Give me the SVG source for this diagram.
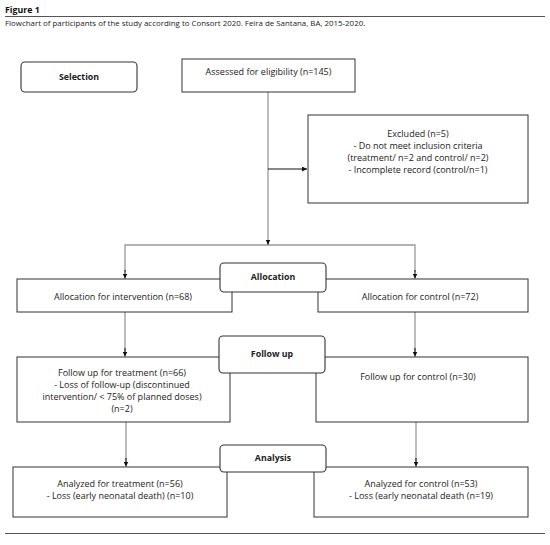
<svg xmlns="http://www.w3.org/2000/svg" width="550" height="545" viewBox="0 0 550 545">
<style>
.t{font-family:"Open Sans","Liberation Sans",sans-serif;font-size:9px;fill:#222;text-anchor:middle}
.b{font-weight:bold;font-size:8.8px}
.box{fill:#fff;stroke:#333;stroke-width:1}
.rbox{fill:#fff;stroke:#333;stroke-width:1.1}
.c{fill:none;stroke:#999;stroke-width:1.3}
.k{fill:none;stroke:#111;stroke-width:1}
</style>
<defs>
<marker id="ah" viewBox="0 0 6 6" refX="6" refY="3" markerWidth="5" markerHeight="5" orient="auto" markerUnits="userSpaceOnUse">
<path d="M0,0 L6,3 L0,6 z" fill="#111"/>
</marker>
</defs>
<rect width="550" height="545" fill="#fff"/>
<g id="header">
<text x="5" y="13" font-family="'Open Sans','Liberation Sans',sans-serif" font-size="8.8" font-weight="bold" fill="#111">Figure 1</text>
<line x1="5" y1="16.5" x2="545" y2="16.5" stroke="#555" stroke-width="1"/>
<text x="5" y="26" font-family="'Open Sans','Liberation Sans',sans-serif" font-size="7.9" fill="#222">Flowchart of participants of the study according to Consort 2020. Feira de Santana, BA, 2015-2020.</text>
</g>
<g id="connectors">
<line class="c" x1="268" y1="92" x2="268" y2="245"/>
<line class="k" x1="268" y1="169" x2="307" y2="169" marker-end="url(#ah)"/>
<polyline class="c" points="125,272 125,245 415,245 415,272"/>
<line class="k" x1="268" y1="240" x2="268" y2="244.5" marker-end="url(#ah)"/>
<line class="k" x1="125" y1="270" x2="125" y2="278.5" marker-end="url(#ah)"/>
<line class="k" x1="415" y1="270" x2="415" y2="278.5" marker-end="url(#ah)"/>
<line class="c" x1="125" y1="312" x2="125" y2="352"/>
<line class="c" x1="415" y1="312" x2="415" y2="352"/>
<line class="k" x1="125" y1="348" x2="125" y2="356.5" marker-end="url(#ah)"/>
<line class="k" x1="415" y1="348" x2="415" y2="356.5" marker-end="url(#ah)"/>
<line class="c" x1="126" y1="422" x2="126" y2="462"/>
<line class="c" x1="416" y1="422" x2="416" y2="462"/>
<line class="k" x1="126" y1="458" x2="126" y2="466.5" marker-end="url(#ah)"/>
<line class="k" x1="416" y1="458" x2="416" y2="466.5" marker-end="url(#ah)"/>
</g>
<g id="selection">
<rect class="rbox" x="21" y="62" width="116" height="30" rx="4"/>
<text class="t b" x="79" y="80">Selection</text>
</g>
<g id="assessed">
<rect class="box" x="182" y="59" width="173" height="33"/>
<text class="t" x="268.5" y="75">Assessed for eligibility (n=145)</text>
</g>
<g id="excluded">
<rect class="box" x="308" y="115" width="220" height="88"/>
<text class="t" x="418" y="137">Excluded (n=5)</text>
<text class="t" x="418" y="149">- Do not meet inclusion criteria</text>
<text class="t" x="418" y="161">(treatment/ n=2 and control/ n=2)</text>
<text class="t" x="418" y="173">- Incomplete record (control/n=1)</text>
</g>
<g id="alloc-int">
<rect class="box" x="17" y="279" width="215" height="33"/>
<text class="t" x="123" y="300">Allocation for intervention (n=68)</text>
</g>
<g id="alloc-ctrl">
<rect class="box" x="318" y="279" width="210" height="33"/>
<text class="t" x="420" y="300">Allocation for control  (n=72)</text>
</g>
<g id="allocation">
<rect class="rbox" x="220" y="263" width="106" height="29" rx="4"/>
<text class="t b" x="273" y="280">Allocation</text>
</g>
<g id="follow-int">
<rect class="box" x="17" y="357" width="213" height="65"/>
<text class="t" x="122" y="376">Follow up for treatment (n=66)</text>
<text class="t" x="122" y="388">- Loss of follow-up (discontinued</text>
<text class="t" x="122" y="400">intervention/ &lt; 75% of planned doses)</text>
<text class="t" x="122" y="412">(n=2)</text>
</g>
<g id="follow-ctrl">
<rect class="box" x="316" y="357" width="212" height="65"/>
<text class="t" x="418" y="380">Follow up for control (n=30)</text>
</g>
<g id="followup">
<rect class="rbox" x="219" y="336" width="106" height="37" rx="4"/>
<text class="t b" x="272" y="357">Follow up</text>
</g>
<g id="anal-int">
<rect class="box" x="13" y="467" width="214" height="50"/>
<text class="t" x="120" y="487">Analyzed for treatment (n=56)</text>
<text class="t" x="120" y="499">- Loss (early neonatal death) (n=10)</text>
</g>
<g id="anal-ctrl">
<rect class="box" x="314" y="467" width="214" height="50"/>
<text class="t" x="421" y="487">Analyzed for control (n=53)</text>
<text class="t" x="421" y="499">- Loss (early neonatal death (n=19)</text>
</g>
<g id="analysis">
<rect class="rbox" x="220" y="445" width="106" height="27" rx="4"/>
<text class="t b" x="273" y="461">Analysis</text>
</g>
<line x1="5" y1="533.5" x2="545" y2="533.5" stroke="#555" stroke-width="1"/>
</svg>
